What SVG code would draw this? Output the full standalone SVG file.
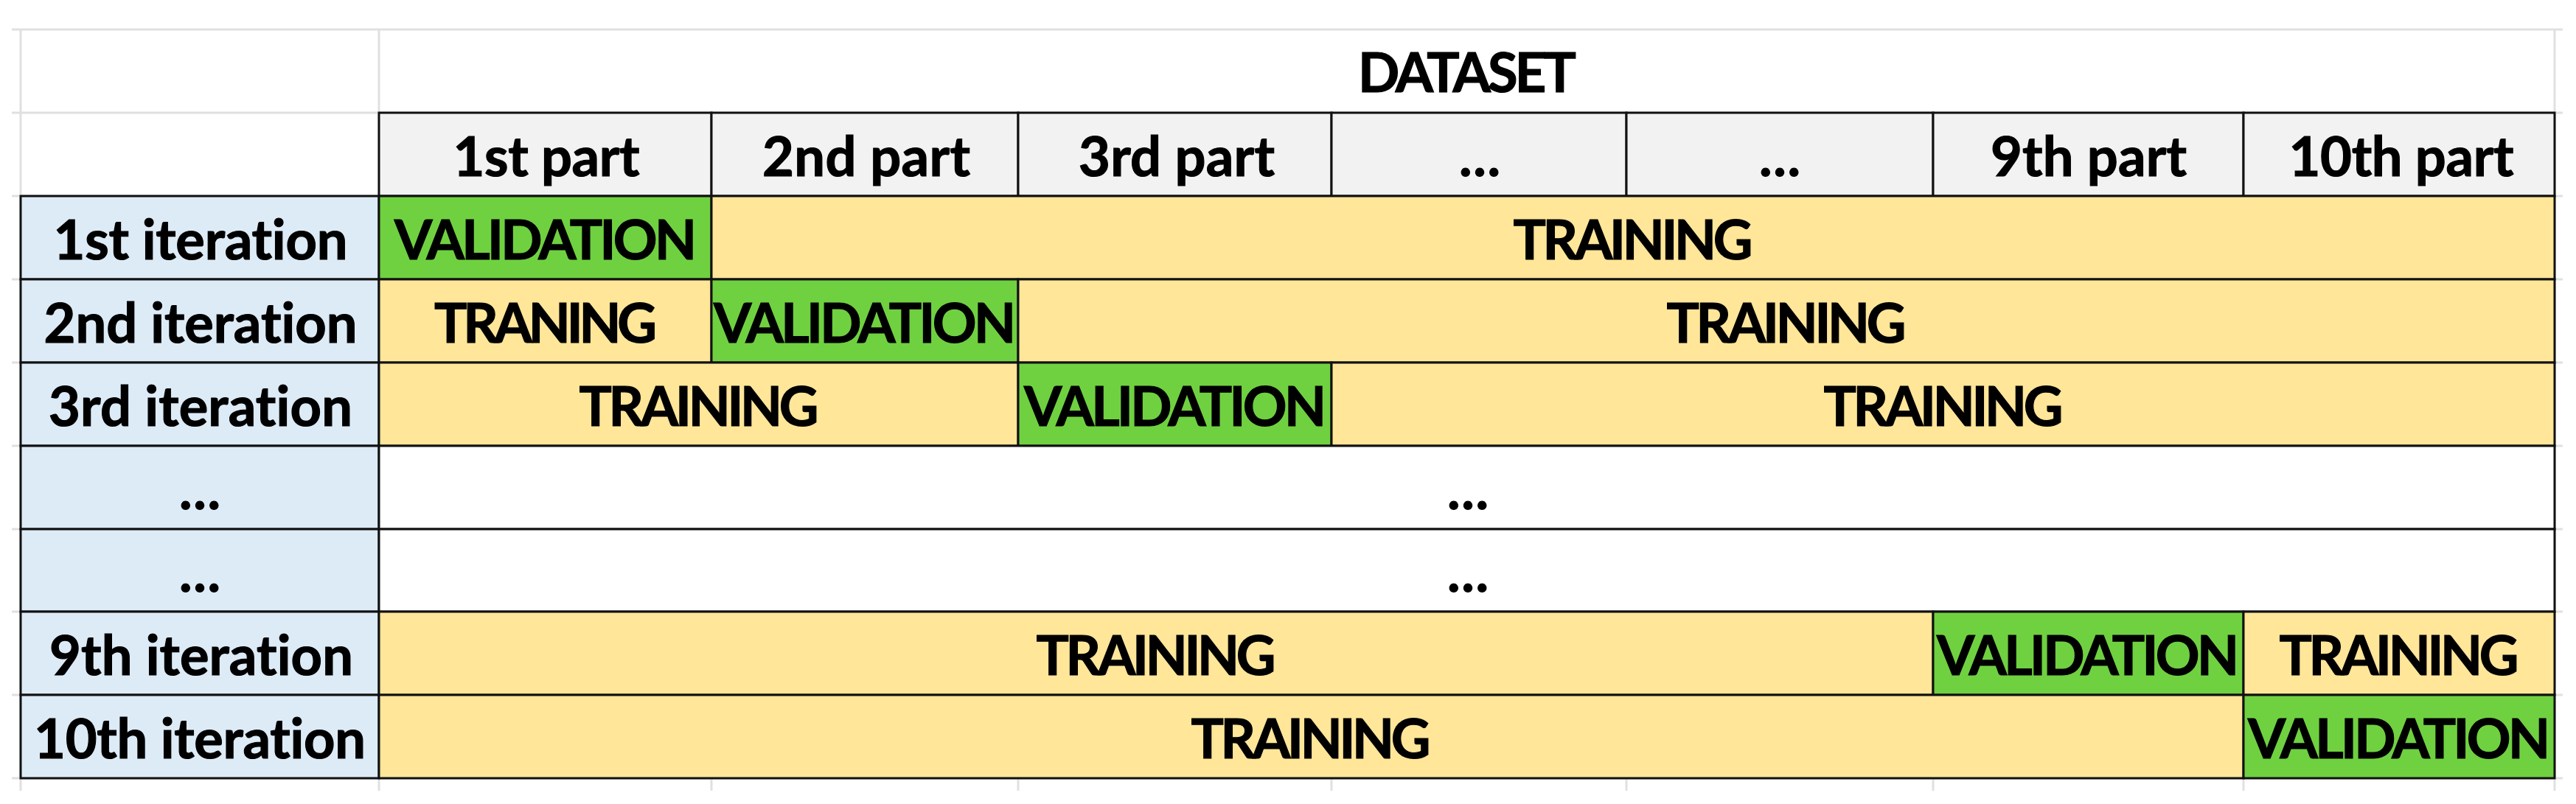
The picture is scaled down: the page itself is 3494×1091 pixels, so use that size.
<svg xmlns="http://www.w3.org/2000/svg" width="3494" height="1091" viewBox="0 0 3494 1091">
<style>
.t{font-family:Lato,"Open Sans","Liberation Sans",sans-serif;font-weight:700;font-size:74px;text-anchor:middle;fill:#000;stroke:#000;stroke-width:1.2;font-variant-ligatures:none}
.g{stroke:#e0e0e0;stroke-width:3;fill:none}
.c{stroke:#111;stroke-width:3}
.hd{fill:#f2f2f2}
.lb{fill:#ddebf7}
.tr{fill:#ffe699}
.va{fill:#6fd140}
.wh{fill:#ffffff}
</style>
<rect x="0" y="0" width="3494" height="1091" fill="#fff"/>
<g id="grid">
<line class="g" x1="16" y1="40" x2="3476" y2="40"/>
<line class="g" x1="16" y1="153" x2="3476" y2="153"/>
<line class="g" x1="28" y1="40" x2="28" y2="1073"/>
<line class="g" x1="514" y1="40" x2="514" y2="1073"/>
<line class="g" x1="3465" y1="40" x2="3465" y2="1073"/>
<line class="g" x1="965" y1="1056" x2="965" y2="1073"/>
<line class="g" x1="1381" y1="1056" x2="1381" y2="1073"/>
<line class="g" x1="1806" y1="1056" x2="1806" y2="1073"/>
<line class="g" x1="2206" y1="1056" x2="2206" y2="1073"/>
<line class="g" x1="2622" y1="1056" x2="2622" y2="1073"/>
<line class="g" x1="3043" y1="1056" x2="3043" y2="1073"/>
<path class="g" d="M16 266H3476M16 379H3476M16 492H3476M16 605H3476M16 718H3476M16 830H3476M16 943H3476M16 1056H3476"/>
</g>
<g id="title"><text class="t" x="1990" y="125" textLength="296">DATASET</text></g>
<g id="header">
<g id="h1"><rect class="hd c" x="514" y="153" width="451" height="113"/><text class="t" x="741" y="239" textLength="253">1st part</text></g>
<g id="h2"><rect class="hd c" x="965" y="153" width="416" height="113"/><text class="t" x="1175" y="239" textLength="282">2nd part</text></g>
<g id="h3"><rect class="hd c" x="1381" y="153" width="425" height="113"/><text class="t" x="1596" y="239" textLength="266">3rd part</text></g>
<g id="h4"><rect class="hd c" x="1806" y="153" width="400" height="113"/><text class="t" x="2007" y="239" textLength="56">...</text></g>
<g id="h5"><rect class="hd c" x="2206" y="153" width="416" height="113"/><text class="t" x="2414" y="239" textLength="56">...</text></g>
<g id="h9"><rect class="hd c" x="2622" y="153" width="421" height="113"/><text class="t" x="2833" y="239" textLength="266">9th part</text></g>
<g id="h10"><rect class="hd c" x="3043" y="153" width="422" height="113"/><text class="t" x="3257" y="239" textLength="305">10th part</text></g>
</g>
<g id="labels">
<g id="l1"><rect class="lb c" x="28" y="266" width="486" height="113"/><text class="t" x="272" y="352" textLength="399">1st iteration</text></g>
<g id="l2"><rect class="lb c" x="28" y="379" width="486" height="113"/><text class="t" x="272" y="465" textLength="425">2nd iteration</text></g>
<g id="l3"><rect class="lb c" x="28" y="492" width="486" height="113"/><text class="t" x="272" y="578" textLength="412">3rd iteration</text></g>
<g id="l4"><rect class="lb c" x="28" y="605" width="486" height="113"/><text class="t" x="271" y="691" textLength="56">...</text></g>
<g id="l5"><rect class="lb c" x="28" y="718" width="486" height="112"/><text class="t" x="271" y="803" textLength="56">...</text></g>
<g id="l9"><rect class="lb c" x="28" y="830" width="486" height="113"/><text class="t" x="273" y="916" textLength="412">9th iteration</text></g>
<g id="l10"><rect class="lb c" x="28" y="943" width="486" height="113"/><text class="t" x="271" y="1029" textLength="450">10th iteration</text></g>
</g>
<g id="row1">
<g id="r1v"><rect class="va c" x="514" y="266" width="451" height="113"/><text class="t" x="740" y="352" textLength="410">VALIDATION</text></g>
<g id="r1t"><rect class="tr c" x="965" y="266" width="2500" height="113"/><text class="t" x="2215" y="352" textLength="325">TRAINING</text></g>
</g>
<g id="row2">
<g id="r2t1"><rect class="tr c" x="514" y="379" width="451" height="113"/><text class="t" x="740" y="465" textLength="302">TRANING</text></g>
<g id="r2v"><rect class="va c" x="965" y="379" width="416" height="113"/><text class="t" x="1173" y="465" textLength="410">VALIDATION</text></g>
<g id="r2t2"><rect class="tr c" x="1381" y="379" width="2084" height="113"/><text class="t" x="2423" y="465" textLength="325">TRAINING</text></g>
</g>
<g id="row3">
<g id="r3t1"><rect class="tr c" x="514" y="492" width="867" height="113"/><text class="t" x="948" y="578" textLength="325">TRAINING</text></g>
<g id="r3v"><rect class="va c" x="1381" y="492" width="425" height="113"/><text class="t" x="1594" y="578" textLength="410">VALIDATION</text></g>
<g id="r3t2"><rect class="tr c" x="1806" y="492" width="1659" height="113"/><text class="t" x="2636" y="578" textLength="325">TRAINING</text></g>
</g>
<g id="row4"><rect class="wh c" x="514" y="605" width="2951" height="113"/><text class="t" x="1991" y="691" textLength="56">...</text></g>
<g id="row5"><rect class="wh c" x="514" y="718" width="2951" height="112"/><text class="t" x="1991" y="803" textLength="56">...</text></g>
<g id="row9">
<g id="r9t1"><rect class="tr c" x="514" y="830" width="2108" height="113"/><text class="t" x="1568" y="916" textLength="325">TRAINING</text></g>
<g id="r9v"><rect class="va c" x="2622" y="830" width="421" height="113"/><text class="t" x="2832" y="916" textLength="410">VALIDATION</text></g>
<g id="r9t2"><rect class="tr c" x="3043" y="830" width="422" height="113"/><text class="t" x="3254" y="916" textLength="325">TRAINING</text></g>
</g>
<g id="row10">
<g id="r10t"><rect class="tr c" x="514" y="943" width="2529" height="113"/><text class="t" x="1778" y="1029" textLength="325">TRAINING</text></g>
<g id="r10v"><rect class="va c" x="3043" y="943" width="422" height="113"/><text class="t" x="3254" y="1029" textLength="410">VALIDATION</text></g>
</g>
</svg>
